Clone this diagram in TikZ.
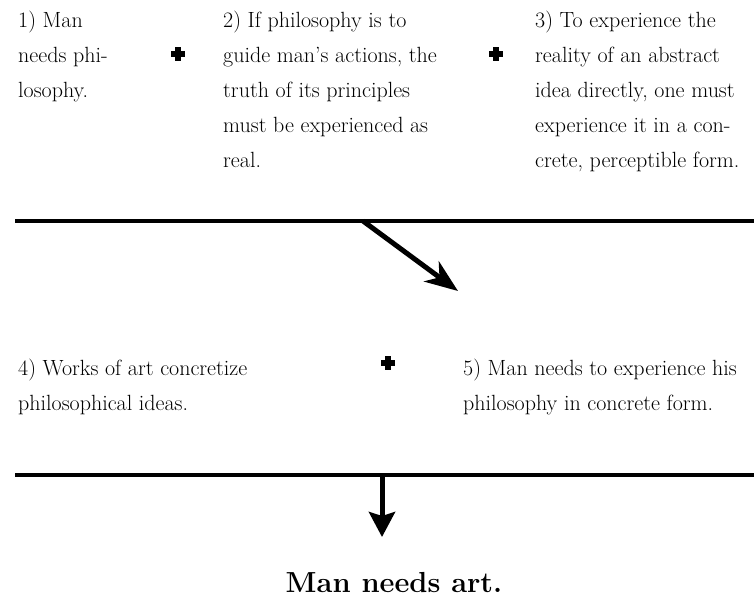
\documentclass[tikz,border=0pt]{standalone}
\usetikzlibrary{arrows.meta}
\begin{document}
\begin{tikzpicture}[x=1pt,y=-1pt,
  stmt/.style={anchor=north west, inner sep=0pt, align=left, font=\fontsize{22}{35}\selectfont},
  rulebar/.style={line width=4.5pt},
  arrA/.style={line width=5pt, -{Stealth[length=33pt,width=25pt,inset=10pt]}},
  arrB/.style={line width=5pt, -{Stealth[length=25pt,width=26pt,inset=4pt]}},
  plusnode/.style={minimum size=14pt, inner sep=0pt,
    path picture={
      \fill ([xshift=-2.8pt]path picture bounding box.north) rectangle ([xshift=2.8pt]path picture bounding box.south);
      \fill ([yshift=-2.8pt]path picture bounding box.west) rectangle ([yshift=2.8pt]path picture bounding box.east);
    }},
  concl/.style={anchor=base, inner sep=0pt, font=\fontsize{29}{34}\selectfont\bfseries}
]
\path[use as bounding box] (0,0) rectangle (754,598);

% first row of premises
\node[stmt] (s1) at (18,10.5) {1) Man\\needs phi-\\losophy.};
\node[plusnode] (p1) at (178,54) {};
\node[stmt] (s2) at (223,10.5) {2) If philosophy is to\\guide man’s actions, the\\truth of its principles\\must be experienced as\\real.};
\node[plusnode] (p2) at (496,54) {};
\node[stmt] (s3) at (535,10.5) {3) To experience the\\reality of an abstract\\idea directly, one must\\experience it in a con-\\crete, perceptible form.};

% first rule and arrow
\coordinate (r1a) at (15,221);
\coordinate (r1b) at (754,221);
\draw[rulebar] (r1a) -- (r1b);
\coordinate (a1s) at (363,221);
\coordinate (a1e) at (458,291);
\draw[arrA] (a1s) -- (a1e);

% second row
\node[stmt] (s4) at (18,358.5) {4) Works of art concretize\\philosophical ideas.};
\node[plusnode] (p3) at (388,363) {};
\node[stmt] (s5) at (463,358.5) {5) Man needs to experience his\\philosophy in concrete form.};

% second rule and arrow
\coordinate (r2a) at (15,475);
\coordinate (r2b) at (754,475);
\draw[rulebar] (r2a) -- (r2b);
\coordinate (a2s) at (382,475);
\coordinate (a2e) at (382,537);
\draw[arrB] (a2s) -- (a2e);

% conclusion
\node[concl] (conc) at (394,592) {Man needs art.};
\end{tikzpicture}
\end{document}
